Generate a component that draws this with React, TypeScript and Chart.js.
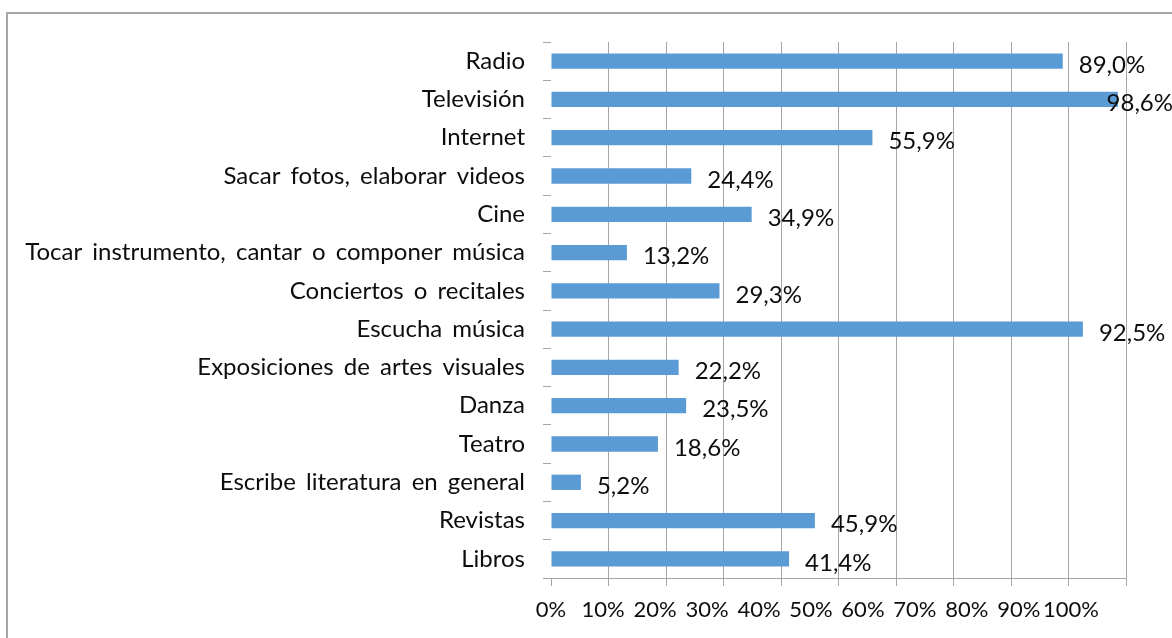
import React, { useEffect, useRef } from 'react';
import { Chart, registerables } from 'chart.js';

Chart.register(...registerables);

const categories = [
  'Radio',
  'Televisión',
  'Internet',
  'Sacar fotos, elaborar videos',
  'Cine',
  'Tocar instrumento, cantar o componer música',
  'Conciertos o recitales',
  'Escucha música',
  'Exposiciones de artes visuales',
  'Danza',
  'Teatro',
  'Escribe literatura en general',
  'Revistas',
  'Libros',
];

const values = [89.0, 98.6, 55.9, 24.4, 34.9, 13.2, 29.3, 92.5, 22.2, 23.5, 18.6, 5.2, 45.9, 41.4];

const xTickValues = [0, 10, 20, 30, 40, 50, 60, 70, 80, 90, 100];

const FONT = 'Lato, "Open Sans", sans-serif';
const FONT_SIZE = 24;
const X_FONT_SIZE = 22;
const TEXT_COLOR = '#0d0d0d';
const GRID_COLOR = '#a6a6a6';
const BAR_COLOR = '#5b9bd5';

const formatPct = (v: number) => v.toFixed(1).replace('.', ',') + '%';

const wordSpacingPlugin = {
  id: 'wordSpacing',
  beforeDraw(chart: any) {
    (chart.ctx as any).wordSpacing = '4px';
  },
};

const dataLabelPlugin = {
  id: 'dataLabels',
  afterDatasetsDraw(chart: any) {
    const ctx = chart.ctx;
    const meta = chart.getDatasetMeta(0);
    ctx.save();
    ctx.font = `${FONT_SIZE}px ${FONT}`;
    ctx.fillStyle = TEXT_COLOR;
    ctx.textBaseline = 'middle';
    ctx.textAlign = 'left';
    meta.data.forEach((bar: any, i: number) => {
      const text = formatPct(values[i]);
      const w = ctx.measureText(text).width;
      const x = Math.min(bar.x + 16, chart.width - w + 1);
      ctx.fillText(text, x, bar.y + 4);
    });
    ctx.restore();
  },
};

export default function App() {
  const canvasRef = useRef<HTMLCanvasElement | null>(null);

  useEffect(() => {
    const canvas = canvasRef.current;
    if (!canvas) return;
    const chart = new Chart(canvas, {
      type: 'bar',
      data: {
        labels: categories,
        datasets: [
          {
            data: values,
            backgroundColor: BAR_COLOR,
            borderWidth: 0,
            barPercentage: 0.4,
            categoryPercentage: 1,
          },
        ],
      },
      options: {
        indexAxis: 'y',
        responsive: false,
        animation: false,
        devicePixelRatio: 1,
        layout: { padding: { top: 42, right: 46, bottom: 0, left: 0 } },
        plugins: {
          legend: { display: false },
          tooltip: { enabled: false },
        },
        scales: {
          y: {
            type: 'category',
            offset: true,
            border: { display: false },
            grid: {
              offset: true,
              drawOnChartArea: false,
              drawTicks: true,
              tickLength: 8,
              color: GRID_COLOR,
              tickColor: GRID_COLOR,
            },
            ticks: {
              padding: 18,
              autoSkip: false,
              color: TEXT_COLOR,
              font: { family: FONT, size: FONT_SIZE },
            },
            afterFit: (s: any) => {
              s.width = 551;
            },
          },
          x: {
            type: 'linear',
            position: 'bottom',
            min: 0,
            max: 100,
            ticks: { display: false, stepSize: 10 },
            grid: {
              color: (c: any) => (c.tick && c.tick.value === 0 ? 'rgba(0,0,0,0)' : GRID_COLOR),
              tickColor: GRID_COLOR,
              tickLength: 8,
              drawTicks: true,
            },
            border: { display: true, color: GRID_COLOR },
            afterFit: (s: any) => {
              s.height = 8;
            },
          },
          xTickLabels: {
            type: 'linear',
            axis: 'x',
            position: 'bottom',
            min: 0,
            max: 110.6,
            afterBuildTicks: (s: any) => {
              s.ticks = xTickValues.map((v) => ({ value: v }));
            },
            grid: { display: false, drawTicks: false },
            border: { display: false },
            ticks: {
              padding: 11,
              autoSkip: false,
              maxRotation: 0,
              minRotation: 0,
              color: TEXT_COLOR,
              font: { family: FONT, size: X_FONT_SIZE },
              callback: (v: any) => v + '%',
            },
            afterFit: (s: any) => {
              s.height = 52;
            },
          },
        },
      } as any,
      plugins: [wordSpacingPlugin, dataLabelPlugin],
    });
    return () => chart.destroy();
  }, []);

  return (
    <div
      style={{
        position: 'absolute',
        left: 0,
        top: 0,
        width: 1172,
        height: 638,
        overflow: 'hidden',
        background: '#fff',
      }}
    >
      <div
        style={{
          position: 'absolute',
          left: 6,
          top: 12,
          width: 1300,
          height: 800,
          borderLeft: `2px solid ${GRID_COLOR}`,
          borderTop: `2px solid ${GRID_COLOR}`,
          boxSizing: 'border-box',
        }}
      />
      <canvas
        ref={canvasRef}
        width={1172}
        height={638}
        style={{ position: 'absolute', left: 0, top: 0, width: 1172, height: 638 }}
      />
    </div>
  );
}
